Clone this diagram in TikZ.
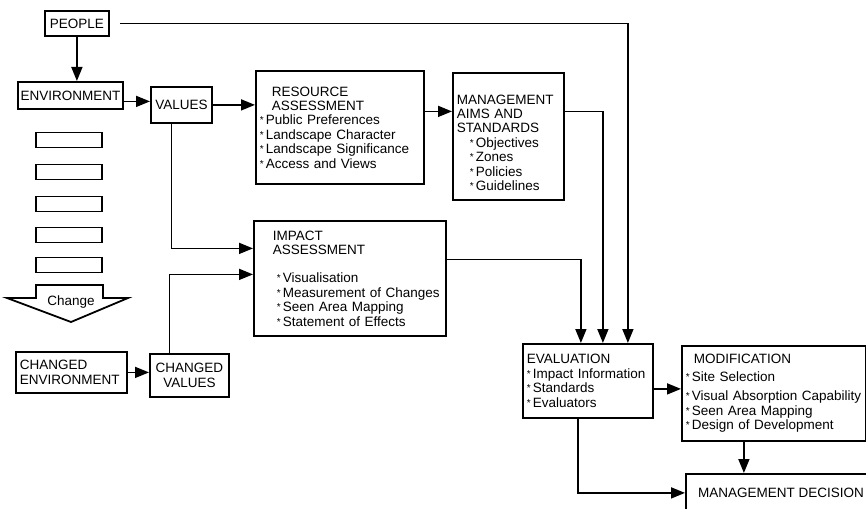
\documentclass[tikz,border=0pt]{standalone}
\usepackage{fontspec}
\setmainfont{Liberation Sans}
\usepackage{tikz}
\usetikzlibrary{arrows.meta}

% small raised star in front of list entries
\newcommand{\bpt}{\raisebox{1pt}{\fontsize{10}{10}\selectfont *}\hspace{2pt}}

\begin{document}
\begin{tikzpicture}[x=1pt,y=-1pt,
    font=\fontsize{13.5}{14.4}\selectfont,
    box/.style={draw=black,line width=1.8pt,anchor=north west,inner xsep=4pt,inner ysep=3pt,align=left},
    cbox/.style={draw=black,line width=1.8pt,anchor=north west,inner sep=2pt,align=center},
    bar/.style={draw=black,line width=1.8pt,minimum width=66pt,minimum height=15pt,inner sep=0pt},
    arr/.style={line width=1.6pt,-{Triangle[length=14pt,width=11pt]}}]
    \useasboundingbox (0,0) rectangle (866,508);

    % left column
    \node[cbox,minimum width=64pt,minimum height=25pt] (people) at (44,10) {PEOPLE};
    \node[cbox,minimum width=105pt,minimum height=27pt] (env) at (17,81) {ENVIRONMENT};
    \node[cbox,minimum width=61pt,minimum height=36pt] (values) at (150,86) {VALUES};
    \foreach \i/\y in {1/140,2/172,3/204,4/235,5/265}
        \node[bar] (bar\i) at (69,\y) {};
    \draw[line width=1.8pt] (36,285) -- (103,285) -- (103,298) -- (128,298)
        -- (71,322) -- (7,298) -- (36,298) -- cycle;
    \node (change) at (71,302) {Change};
    \node[box,text width=103pt,minimum height=41pt] (cenv) at (15,351) {CHANGED\\ENVIRONMENT};
    \node[cbox,minimum width=79pt,minimum height=43pt] (cval) at (149,353) {CHANGED\\VALUES};

    % assessment boxes
    \node[box,text width=160pt,minimum height=113pt] (res) at (255,70)
        {\hspace*{12pt}RESOURCE\\\hspace*{12pt}ASSESSMENT\\
         \bpt Public Preferences\\\bpt Landscape Character\\
         \bpt Landscape Significance\\\bpt Access and Views};
    \node[box,text width=103pt,minimum height=127pt] (mgmt) at (452,72)
        {\rule{0pt}{22pt}MANAGEMENT\\AIMS AND\\STANDARDS\\
         \hspace*{13pt}\bpt Objectives\\\hspace*{13pt}\bpt Zones\\
         \hspace*{13pt}\bpt Policies\\\hspace*{13pt}\bpt Guidelines};
    \node[box,text width=184pt,minimum height=115pt] (imp) at (253,220)
        {\hspace*{15pt}IMPACT\\\hspace*{15pt}ASSESSMENT\\[14pt]
         \hspace*{19pt}\bpt Visualisation\\\hspace*{19pt}\bpt Measurement of Changes\\
         \hspace*{19pt}\bpt Seen Area Mapping\\\hspace*{19pt}\bpt Statement of Effects};

    % right part
    \node[box,text width=122pt,minimum height=74pt] (eval) at (522,343)
        {EVALUATION\\\bpt Impact Information\\\bpt Standards\\\bpt Evaluators};
    \node[box,text width=176pt,minimum height=95pt] (mod) at (681,345)
        {\hspace*{8pt}MODIFICATION\\[3pt]\bpt Site Selection\\[5pt]
         \bpt Visual Absorption Capability\\\bpt Seen Area Mapping\\
         \bpt Design of Development};
    \node[cbox,minimum width=190pt,minimum height=38pt] (md) at (685,473) {MANAGEMENT DECISION};

    % connectors
    \draw[arr] (people.south) -- (people.south |- env.north);
    \draw[arr] ([yshift=-6pt]env.east) -- ([yshift=-6pt]env.east -| values.west);
    \draw[arr] (values.east) -- (values.east -| res.west);
    \draw[arr] ([yshift=16pt]res.east) -- ([yshift=16pt]res.east -| mgmt.west);
    \draw[arr] ([yshift=25pt]mgmt.east) -| ([xshift=15pt]eval.north);
    \draw[arr,shorten <=10pt] (people.east) -| ([xshift=40pt]eval.north);
    \draw[arr] ([xshift=-10pt]values.south) |- ([yshift=30pt]imp.west);
    \draw[arr] ([xshift=-20pt]cval.north) |- ([yshift=4pt]imp.west);
    \draw[arr] ([yshift=19pt]imp.east) -| ([xshift=-7pt]eval.north);
    \draw[arr] (cenv.east) -- (cenv.east -| cval.west);
    \draw[arr] ([yshift=-8pt]eval.east) -- ([yshift=-8pt]eval.east -| mod.west);
    \draw[arr] ([xshift=-30pt]mod.south) -- ([xshift=-30pt]mod.south |- md.north);
    \draw[arr] ([xshift=-10pt]eval.south) |- (md.west);
\end{tikzpicture}
\end{document}
